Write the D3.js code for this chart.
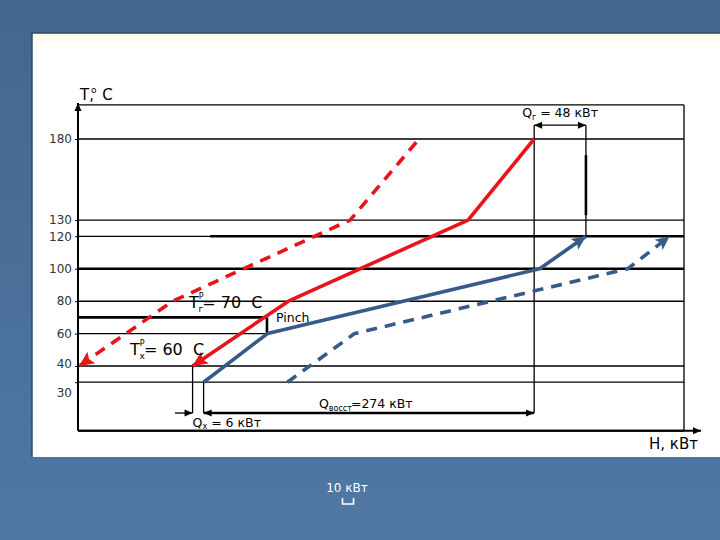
<!DOCTYPE html>
<html><head><meta charset="utf-8">
<script src="https://cdn.jsdelivr.net/npm/d3@7"></script>
<style>body{margin:0;background:#4a6e99}svg{display:block}</style>
</head><body><svg id="c" width="720" height="540"></svg>
<script>
// ---- data (T in °C, H in kW) ----
const hotT = [180, 130, 80, 40];
const hotH = [414, 354, 191, 104];
const hotShiftT = [178, 130, 80, 40];
const hotShiftH = [307, 247, 86, 1];
const coldT = [30, 60, 100, 120];
const coldH = [114, 172, 419, 461];
const coldShiftT = [30, 60, 100, 120];
const coldShiftH = [190, 251, 499, 537];
const tickValues = [180, 130, 120, 100, 80, 60, 40, 30];
const tickLabels = ["180", "130", "120", "100", "80", "60", "40", "30"];
const pinchT = [70, 60];
const pinchH = 171.5;
const QgText = "48", QxText = "6", QrecText = "274";
const QgH = [414, 461];
const QxH = [104, 114];
const QrecH = [114, 414];

const svg = d3.select("#c");
const W = 720, Hh = 540;

// background
const defs = svg.append("defs");
const grad = defs.append("linearGradient").attr("id", "band").attr("x1", 0).attr("y1", 0).attr("x2", 0).attr("y2", 1);
grad.append("stop").attr("offset", "0%").attr("stop-color", "#fffbe6");
grad.append("stop").attr("offset", "100%").attr("stop-color", "#ffffff");
const bg = defs.append("linearGradient").attr("id", "bg").attr("x1", 0).attr("y1", 0).attr("x2", 0).attr("y2", 1);
bg.append("stop").attr("offset", "0%").attr("stop-color", "#42678f");
bg.append("stop").attr("offset", "100%").attr("stop-color", "#5078a3");

svg.append("rect").attr("width", W).attr("height", Hh).attr("fill", "url(#bg)");
svg.append("rect").attr("x", 32).attr("y", 33).attr("width", 688).attr("height", 424).attr("fill", "#fff");
svg.append("rect").attr("x", 32).attr("y", 33).attr("width", 688).attr("height", 16).attr("fill", "url(#band)");
svg.append("path").attr("d", "M32,457 V33 H720").attr("fill", "none").attr("stroke", "#2c4a6f").attr("stroke-width", 1.5);

// markers
function marker(id, color, len, half, notch) {
  defs.append("marker").attr("id", id)
    .attr("markerUnits", "userSpaceOnUse")
    .attr("viewBox", `${-len - 1} ${-half - 1} ${len + 2} ${2 * half + 2}`)
    .attr("refX", 0).attr("refY", 0)
    .attr("markerWidth", len + 2).attr("markerHeight", 2 * half + 2)
    .attr("orient", "auto-start-reverse")
    .append("path")
    .attr("d", `M0,0 L${-len},${-half} L${-len + notch},0 L${-len},${half} Z`)
    .attr("fill", color);
}
const RED = "#e8141c", BLUE = "#375b89";
marker("aRed", RED, 15, 7, 3);
marker("aBlue", BLUE, 14, 6.5, 3);
marker("aBlk", "#000", 8, 3.5, 0);

// scales
const x = d3.scaleLinear().domain([0, 550]).range([78, 684]);
const y = d3.scaleLinear().domain([40, 180]).range([366, 139]);
const Tmin = 0, Tmax = 201, Hmax = 550;
const Tqg = 188.5, Tbot = 11;

const g = svg.append("g");
const thin = 1.3;
function hline(T, h0, h1, w) {
  g.append("line").attr("x1", x(h0)).attr("x2", x(h1)).attr("y1", y(T)).attr("y2", y(T))
    .attr("stroke", "#000").attr("stroke-width", w);
}
function vline(H, t0, t1, w) {
  g.append("line").attr("x1", x(H)).attr("x2", x(H)).attr("y1", y(t0)).attr("y2", y(t1))
    .attr("stroke", "#000").attr("stroke-width", w);
}
// frame
hline(Tmax, 0, Hmax, thin);
vline(Hmax, Tmax, Tmin, thin);
// grid
hline(180, 0, Hmax, thin);
hline(130, 0, Hmax, thin);
hline(120, 0, Hmax, thin);
hline(120, 120, Hmax, 2.6);
hline(100, 0, Hmax, 2.6);
hline(80, 0, Hmax, 1.5);
hline(pinchT[0], 0, pinchH, 2.6);
vline(pinchH, pinchT[0], pinchT[1], 2.6);
hline(60, 0, pinchH, thin);
hline(40, 0, Hmax, thin);
hline(30, 0, Hmax, thin);
hline(Tmin, 0, Hmax, 2);

// measure verticals
vline(QgH[0], Tqg, Tbot, 1.3);
vline(QgH[1], Tqg, 120, 1.3);
vline(QgH[1], 170, 133, 2.6);
vline(QxH[0], 40, Tbot, 1.3);
vline(QxH[1], 30, Tbot, 1.3);

// measure arrows
g.append("line").attr("x1", x(QgH[0])).attr("x2", x(QgH[1])).attr("y1", y(Tqg)).attr("y2", y(Tqg))
  .attr("stroke", "#000").attr("stroke-width", 1.3)
  .attr("marker-start", "url(#aBlk)").attr("marker-end", "url(#aBlk)");
g.append("line").attr("x1", x(88)).attr("x2", x(QxH[0])).attr("y1", y(Tbot)).attr("y2", y(Tbot))
  .attr("stroke", "#000").attr("stroke-width", 1.3).attr("marker-end", "url(#aBlk)");
g.append("line").attr("x1", x(QrecH[0])).attr("x2", x(QrecH[1])).attr("y1", y(Tbot)).attr("y2", y(Tbot))
  .attr("stroke", "#000").attr("stroke-width", 2.6)
  .attr("marker-start", "url(#aBlk)").attr("marker-end", "url(#aBlk)");

// axes lines with arrows
g.append("line").attr("x1", x(0)).attr("x2", x(0)).attr("y1", y(Tmin)).attr("y2", y(Tmax) - 2)
  .attr("stroke", "#000").attr("stroke-width", 2).attr("marker-end", "url(#aBlk)");
g.append("line").attr("x1", x(0)).attr("x2", 701).attr("y1", y(Tmin)).attr("y2", y(Tmin))
  .attr("stroke", "#000").attr("stroke-width", 2).attr("marker-end", "url(#aBlk)");

// y axis ticks
const ax = d3.axisLeft(y).tickValues(tickValues).tickSize(3).tickPadding(3)
  .tickFormat((d, i) => tickLabels[i]);
const ag = svg.append("g").attr("transform", `translate(${x(0)},0)`).call(ax);
ag.select(".domain").remove();
ag.selectAll("text").attr("font-family", "DejaVu Sans").attr("font-size", 12).attr("fill", "#333")
  .attr("dy", d => d === 30 ? "1.2em" : (d === 40 ? "0.1em" : "0.32em"));
ag.selectAll("line").attr("stroke", "#000");

// curves
const line = d3.line().x(d => x(d[0])).y(d => y(d[1]));
function curve(H, T, color, mk, dash) {
  svg.append("path").datum(H.map((h, i) => [h, T[i]]))
    .attr("d", line).attr("fill", "none").attr("stroke", color).attr("stroke-width", 3.6)
    .attr("stroke-linejoin", "round")
    .attr("stroke-dasharray", dash || null)
    .attr("marker-end", mk ? `url(#${mk})` : null);
}
curve(hotShiftH, hotShiftT, RED, "aRed", "11,8");
curve(hotH, hotT, RED, "aRed");
curve(coldShiftH, coldShiftT, BLUE, "aBlue", "11,8");
curve(coldH, coldT, BLUE, "aBlue");

// texts
const F = "DejaVu Sans";
function txt(xp, yp, size, fill) {
  return svg.append("text").attr("x", xp).attr("y", yp).attr("font-family", F)
    .attr("font-size", size).attr("fill", fill || "#000").style("white-space", "pre");
}
// axis titles
let t = txt(x(0) + 2, 100, 15);
t.append("tspan").text("T,");
t.append("tspan").attr("font-size", 9).attr("dx", -3).attr("dy", -7).text("o");
t.append("tspan").attr("dx", 1).attr("dy", 7).text(" C");
txt(649, 449, 15).text("H, кВт");

// Qг
t = txt((x(QgH[0]) + x(QgH[1])) / 2, 117, 12.5).attr("text-anchor", "middle");
t.append("tspan").text("Q");
t.append("tspan").attr("font-size", 8).attr("dy", 3).text("г");
t.append("tspan").attr("dy", -3).text(` = ${QgText} кВт`);

// Qвосст
t = txt(319, 408, 12.5);
t.append("tspan").text("Q");
t.append("tspan").attr("font-size", 8).attr("dy", 3).text("восст");
t.append("tspan").attr("dy", -3).attr("dx", -1).text(`=${QrecText} кВт`);

// Qх
t = txt(x(QxH[0]), 427, 12.5);
t.append("tspan").text("Q");
t.append("tspan").attr("font-size", 8).attr("dy", 2).text("х");
t.append("tspan").attr("dy", -2).text(` = ${QxText} кВт`);

// T^P_г = 70 C
t = txt(189, 308, 16);
t.append("tspan").text("T");
t.append("tspan").attr("font-size", 8).attr("dy", -9).text("P");
t.append("tspan").attr("font-size", 9).attr("dx", -5).attr("dy", 13).text("г");
t.append("tspan").attr("dx", -1).attr("dy", -4).text(`= ${pinchT[0]}  C`);

// T^P_x = 60 C
t = txt(130, 355, 16);
t.append("tspan").text("T");
t.append("tspan").attr("font-size", 8).attr("dy", -9).text("P");
t.append("tspan").attr("font-size", 9).attr("dx", -5).attr("dy", 13).text("x");
t.append("tspan").attr("dx", -1).attr("dy", -4).text(`= ${pinchT[1]}  C`);

txt(276, 322, 12.5).text("Pinch");

// scale bar 10 кВт
txt(347, 492, 12, "#fff").attr("text-anchor", "middle").text("10 кВт");
const bw = x(10) - x(0);
svg.append("path").attr("d", `M${348 - bw / 2},498 V504 H${348 + bw / 2} V498`)
  .attr("fill", "none").attr("stroke", "#fff").attr("stroke-width", 1.6);
</script></body></html>
